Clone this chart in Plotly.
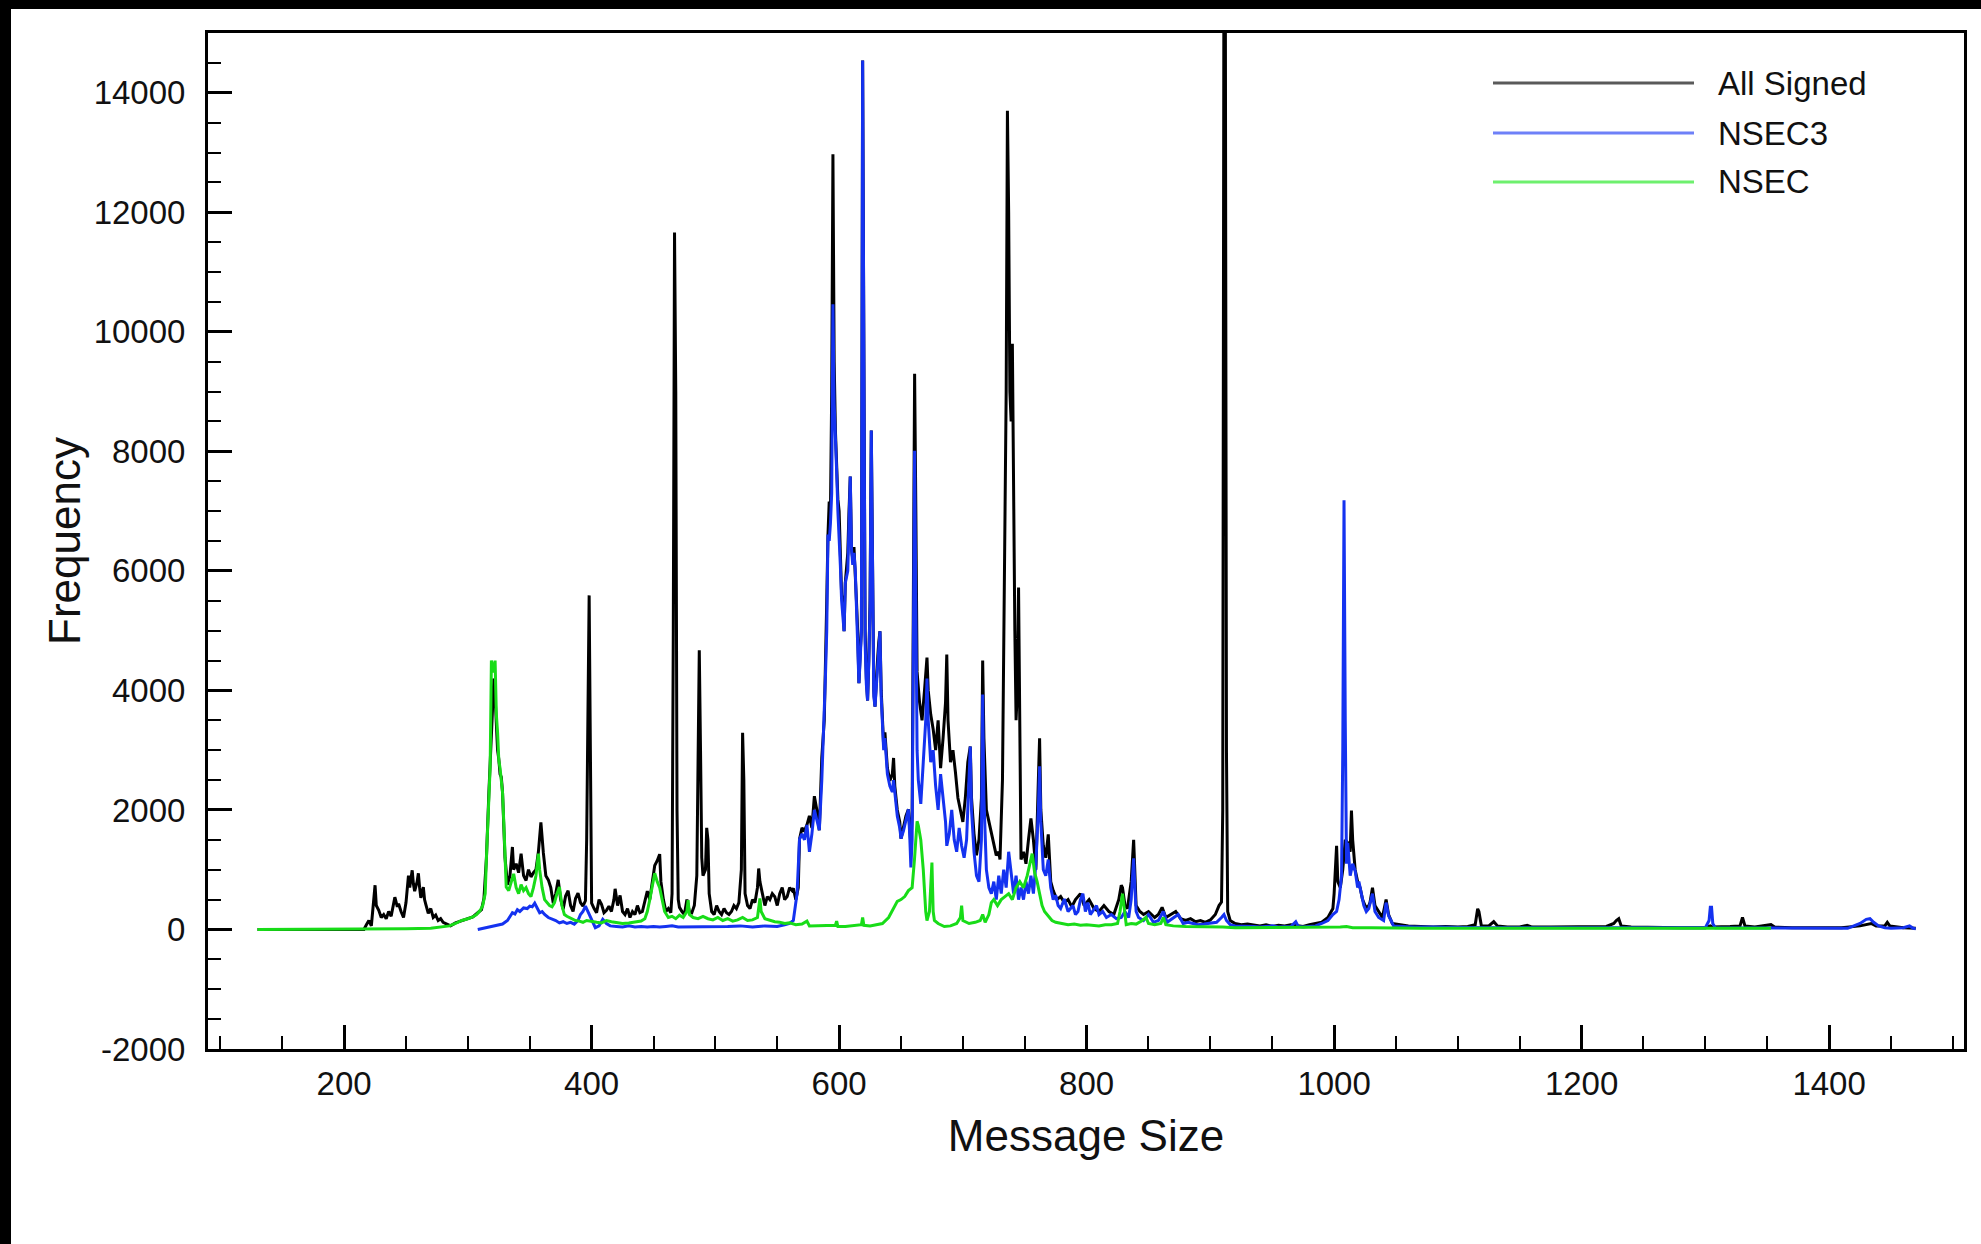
import plotly.graph_objects as go

# ---- data: frequency of DNS response sizes (bytes) ----
all_signed_x = [130, 216, 218, 220, 222, 224, 225, 226, 228, 230, 232, 234, 236, 238, 240, 241, 243, 244, 246, 248,
                250, 252, 253, 255, 256, 257, 259, 260, 261, 262, 264, 265, 266, 268, 270, 272, 274, 276, 278, 280,
                283, 286, 290, 295, 300, 304, 308, 311, 313, 315, 317, 318, 320, 321, 322, 323, 324, 325, 326, 327,
                328, 330, 332, 334, 336, 337, 339, 341, 343, 345, 347, 349, 351, 353, 355, 357, 359, 361, 363, 365,
                367, 369, 371, 373, 375, 377, 379, 381, 383, 385, 387, 389, 391, 393, 395, 396, 397, 398, 399, 400,
                402, 404, 406, 408, 410, 412, 414, 416, 418, 419, 421, 423, 425, 427, 429, 431, 433, 435, 437, 439,
                441, 443, 445, 447, 449, 451, 453, 455, 456, 458, 460, 462, 464, 465, 466, 467, 468, 469, 470, 471,
                473, 475, 477, 479, 481, 483, 485, 486, 487, 488, 489, 490, 492, 493, 494, 495, 497, 499, 501, 503,
                505, 507, 509, 511, 513, 515, 517, 519, 521, 522, 523, 524, 526, 528, 530, 532, 534, 535, 536, 538,
                540, 542, 544, 546, 548, 550, 552, 554, 556, 558, 560, 562, 563, 565, 567, 568, 570, 572, 574, 576,
                578, 580, 582, 584, 586, 588, 589, 590, 591, 592, 593, 594, 595, 596, 597, 598, 599, 600, 601, 602,
                603, 604, 605, 606, 607, 608, 609, 610, 611, 612, 613, 614, 615, 616, 617, 618, 619, 620, 621, 622,
                623, 624, 625, 626, 627, 628, 629, 630, 631, 632, 633, 634, 635, 636, 637, 638, 639, 641, 643, 644,
                645, 647, 649, 650, 652, 654, 656, 657, 658, 659, 660, 661, 662, 663, 665, 667, 669, 671, 672, 674,
                676, 678, 680, 682, 684, 686, 687, 688, 690, 692, 694, 696, 698, 700, 702, 704, 706, 707, 709, 711,
                713, 715, 716, 717, 719, 722, 724, 727, 729, 730, 732, 733, 734, 735, 736, 737, 738, 739, 740, 741,
                742, 743, 744, 745, 746, 747, 749, 751, 753, 755, 757, 759, 761, 762, 763, 765, 767, 769, 771, 773,
                776, 779, 782, 785, 788, 791, 795, 798, 802, 806, 810, 814, 818, 822, 826, 828, 829, 831, 833, 836,
                838, 839, 840, 843, 846, 850, 855, 858, 861, 864, 868, 872, 876, 880, 884, 888, 892, 896, 900, 904,
                907, 909, 910, 911, 912, 913, 914, 916, 920, 925, 930, 935, 940, 945, 950, 955, 960, 965, 970, 975,
                980, 985, 990, 995, 999, 1000, 1001, 1002, 1003, 1005, 1007, 1009, 1011, 1013, 1014, 1015, 1017, 1019,
                1021, 1023, 1025, 1027, 1029, 1031, 1033, 1036, 1039, 1042, 1044, 1047, 1052, 1060, 1070, 1080, 1090,
                1100, 1108, 1114, 1116, 1117, 1119, 1125, 1129, 1132, 1140, 1150, 1156, 1160, 1175, 1190, 1200, 1210,
                1220, 1226, 1228, 1230, 1232, 1240, 1260, 1280, 1300, 1304, 1306, 1315, 1320, 1328, 1330, 1332, 1340,
                1353, 1356, 1370, 1390, 1410, 1425, 1430, 1434, 1438, 1445, 1447, 1449, 1460, 1470]
all_signed_y = [0, 0, 80, 150, 60, 500, 740, 400, 320, 200, 250, 180, 300, 220, 420, 540, 380, 430, 300, 200,
                450, 900, 700, 990, 760, 640, 800, 940, 700, 530, 710, 500, 420, 270, 350, 200, 240, 150, 180, 120,
                90, 60, 110, 150, 190, 210, 280, 330, 520, 1200, 2300, 2750, 3800, 4200, 3900, 3500, 3000, 2850, 2600, 2550,
                2300, 1200, 750, 900, 1380, 1000, 1100, 950, 1270, 900, 820, 1000, 880, 950, 1000, 1300, 1790, 1280, 900, 830,
                700, 440, 600, 830, 500, 340, 560, 650, 400, 300, 520, 610, 450, 390, 480, 1500, 4200, 5590, 3000, 440,
                350, 280, 500, 420, 280, 320, 390, 300, 500, 680, 400, 570, 300, 250, 350, 200, 300, 250, 400, 280,
                300, 450, 640, 500, 800, 1070, 1150, 1260, 800, 500, 300, 350, 280, 600, 5000, 11660, 9000, 2000, 500, 370,
                300, 250, 500, 300, 280, 400, 900, 3500, 4670, 3000, 1200, 900, 1000, 1700, 1500, 600, 300, 250, 400, 300,
                250, 350, 280, 250, 300, 400, 350, 450, 1000, 3290, 2500, 600, 400, 350, 500, 450, 700, 1020, 800, 600,
                400, 550, 500, 600, 550, 400, 600, 700, 500, 550, 700, 650, 690, 500, 700, 1510, 1700, 1650, 1750, 1900,
                1700, 2230, 2000, 1660, 2880, 3500, 4270, 5500, 6610, 7160, 7000, 9000, 12970, 9500, 8350, 7670, 7200, 7000, 6090, 5600,
                5500, 4990, 5800, 6000, 6300, 7000, 7580, 6370, 6200, 6400, 6040, 5500, 5000, 4120, 4600, 5000, 14540, 10000, 5000, 4200,
                3830, 4500, 5500, 8350, 6000, 4000, 3730, 4200, 4500, 4800, 4990, 4000, 3500, 3060, 3300, 2900, 2700, 2490, 2600, 2870,
                2400, 2000, 1800, 1520, 1700, 1900, 2010, 1700, 1400, 1900, 5000, 9300, 7000, 4310, 3800, 3500, 4000, 4550, 4000, 3600,
                3350, 3000, 3500, 2700, 3200, 3800, 4600, 3500, 2800, 3000, 2630, 2200, 2000, 1800, 2200, 2800, 3060, 2200, 1600, 1240,
                1500, 2200, 4500, 3200, 2000, 1720, 1500, 1240, 1300, 1170, 2500, 5000, 6120, 9000, 13700, 12000, 9000, 8500, 9800, 7000,
                5000, 3500, 4000, 5720, 3000, 1170, 1300, 1100, 1500, 1860, 1500, 1000, 2500, 3200, 2000, 1400, 1200, 1590, 800, 650,
                500, 550, 450, 500, 380, 500, 600, 400, 500, 350, 300, 400, 300, 250, 500, 740, 700, 400, 350, 800,
                1500, 900, 400, 300, 250, 300, 200, 250, 370, 200, 250, 300, 180, 150, 180, 130, 150, 120, 160, 250,
                400, 460, 2000, 17000, 17000, 3000, 300, 150, 100, 80, 90, 70, 60, 80, 50, 70, 60, 80, 60, 50,
                80, 100, 120, 200, 350, 600, 1100, 1400, 800, 700, 1000, 1500, 1450, 1300, 1990, 1500, 1000, 800,
                700, 500, 400, 350, 450, 700, 400, 300, 200, 500, 250, 100, 80, 60, 50, 40, 50,
                40, 50, 80, 345, 300, 60, 60, 130, 60, 40, 40, 70, 40, 40, 40, 40, 40,
                50, 100, 150, 180, 60, 40, 30, 30, 30, 60, 40, 40, 50, 60, 200, 60, 40,
                80, 40, 30, 30, 30, 60, 80, 100, 60, 60, 120, 60, 30, 20]

nsec3_x = [308, 312, 316, 320, 324, 328, 332, 336, 338, 340, 342, 345, 348, 350, 352, 354, 356, 358, 360, 362,
           365, 368, 371, 374, 377, 380, 383, 386, 389, 391, 393, 395, 397, 399, 401, 403, 406, 409, 412, 415,
           420, 425, 430, 435, 440, 445, 450, 455, 460, 465, 470, 480, 490, 500, 510, 520, 530, 540, 550, 556,
           560, 563, 566, 568, 570, 572, 574, 576, 578, 580, 582, 584, 586, 588, 589, 590, 591, 592, 593, 594,
           595, 596, 597, 598, 599, 600, 601, 602, 603, 604, 605, 606, 607, 608, 609, 610, 611, 612, 613, 614,
           615, 616, 617, 618, 619, 620, 621, 622, 623, 624, 625, 626, 627, 628, 629, 630, 631, 632, 633, 634,
           635, 636, 637, 638, 639, 641, 643, 644, 645, 647, 649, 650, 652, 654, 656, 657, 658, 659, 660, 661,
           662, 663, 664, 666, 668, 670, 671, 672, 674, 676, 678, 680, 682, 684, 686, 687, 689, 691, 693, 695,
           697, 699, 701, 703, 705, 706, 707, 709, 711, 713, 715, 716, 717, 719, 721, 723, 725, 727, 729, 731,
           733, 735, 737, 739, 741, 743, 745, 747, 749, 751, 753, 755, 757, 759, 761, 762, 763, 765, 767, 769,
           771, 773, 775, 777, 779, 782, 785, 787, 789, 791, 793, 795, 797, 799, 801, 803, 806, 808, 810, 813,
           816, 820, 824, 828, 831, 834, 836, 838, 839, 840, 842, 846, 850, 854, 858, 862, 865, 870, 874, 878,
           882, 886, 890, 895, 900, 905, 909, 911, 913, 916, 920, 925, 930, 935, 940, 945, 950, 955, 960, 965,
           969, 971, 975, 980, 985, 990, 995, 999, 1002, 1004, 1006, 1007, 1008, 1009, 1010, 1011, 1012, 1013, 1015, 1017,
           1019, 1020, 1022, 1024, 1026, 1028, 1031, 1033, 1036, 1040, 1042, 1044, 1046, 1048, 1055, 1065, 1080, 1100, 1120, 1140,
           1160, 1180, 1200, 1220, 1240, 1260, 1280, 1300, 1303, 1304, 1305, 1306, 1308, 1320, 1340, 1360, 1380, 1400,
           1415, 1420, 1425, 1430, 1433, 1436, 1440, 1445, 1450, 1460, 1465, 1468, 1470]
nsec3_y = [0, 20, 30, 50, 80, 90, 150, 280, 260, 330, 300, 360, 350, 390, 380, 440, 360, 280, 300, 250,
           200, 180, 150, 110, 130, 100, 120, 90, 150, 250, 300, 390, 300, 200, 100, 30, 60, 170, 100, 60,
           50, 40, 60, 40, 50, 40, 50, 40, 50, 60, 40, 40, 50, 40, 50, 60, 40, 60, 50, 80,
           100, 150, 600, 1510, 1600, 1500, 1750, 1300, 1600, 2000, 1800, 1660, 2500, 3500, 4270, 5000, 6610, 6500, 6800, 7300,
           10460, 8800, 8350, 7670, 7000, 6600, 6090, 5500, 5300, 4990, 5800, 5900, 6000, 6800, 7580, 6370, 6100, 6300, 6040, 5400,
           4800, 4120, 4500, 5000, 14540, 9000, 4800, 4100, 3830, 4500, 5400, 8350, 5800, 3900, 3730, 4100, 4400, 4700, 4990, 3900,
           3400, 3000, 3200, 2800, 2600, 2400, 2300, 2500, 2300, 1900, 1700, 1520, 1650, 1850, 2010, 1600, 1040, 1500, 4000, 8010,
           5500, 3000, 2500, 2100, 2800, 3500, 4200, 3500, 2800, 3000, 2400, 2000, 2600, 2200, 1800, 1400, 1600, 2000, 1500, 1300,
           1700, 1400, 1200, 1500, 2800, 3060, 2000, 1300, 900, 800, 1500, 3930, 2200, 1000, 700, 600, 800, 500, 900, 600,
           1000, 700, 1300, 900, 600, 900, 500, 700, 500, 800, 600, 900, 600, 1100, 2000, 2730, 1800, 1000, 900, 1170,
           700, 500, 570, 400, 350, 510, 300, 350, 400, 250, 300, 500, 600, 300, 450, 250, 350, 400, 250, 300,
           200, 250, 180, 200, 300, 200, 500, 1190, 700, 300, 200, 150, 250, 120, 150, 300, 120, 200, 250, 100,
           120, 100, 80, 90, 100, 120, 200, 250, 150, 80, 60, 60, 50, 50, 40, 50, 60, 40, 50, 50,
           130, 50, 40, 50, 60, 100, 150, 250, 300, 500, 900, 3000, 7180, 3500, 1100, 1450, 1200, 900, 1100, 980,
           700, 800, 600, 400, 300, 350, 600, 300, 200, 150, 450, 230, 150, 60, 50, 40, 40, 30, 30, 30,
           30, 30, 30, 30, 30, 30, 30, 30, 150, 370, 370, 100, 30, 30, 30, 30, 20, 20,
           20, 60, 100, 170, 180, 120, 60, 30, 20, 30, 60, 20, 10]

nsec_x = [130, 180, 220, 250, 270, 285, 290, 295, 300, 304, 307, 310, 312, 314, 315, 316, 317, 318, 319, 320,
          321, 322, 323, 324, 325, 326, 327, 328, 329, 330, 331, 333, 335, 337, 339, 341, 343, 345, 347, 349,
          351, 353, 355, 357, 358, 360, 362, 364, 366, 368, 370, 372, 374, 376, 378, 380, 382, 384, 387, 390,
          393, 396, 400, 404, 408, 412, 416, 420, 425, 430, 435, 440, 443, 445, 447, 449, 451, 453, 455, 457,
          459, 462, 465, 468, 471, 474, 475, 477, 478, 479, 482, 486, 490, 494, 498, 502, 506, 510, 514, 518,
          522, 526, 530, 534, 536, 537, 540, 544, 548, 552, 556, 560, 565, 570, 574, 576, 580, 585, 590, 594,
          597, 598, 599, 605, 610, 615, 618, 619, 620, 625, 630, 635, 640, 644, 647, 650, 653, 656, 659, 661,
          663, 664, 666, 668, 669, 670, 671, 673, 675, 676, 677, 680, 685, 690, 695, 698, 699, 700, 705, 710,
          714, 716, 718, 721, 723, 725, 728, 731, 734, 737, 740, 743, 746, 749, 752, 754, 756, 758, 760, 762,
          764, 766, 768, 770, 772, 775, 780, 785, 790, 795, 800, 805, 810, 815, 820, 825, 827, 829, 830, 832,
          836, 840, 845, 848, 850, 855, 860, 862, 864, 870, 880, 890, 900, 910, 920, 940, 960, 980, 1000, 1005,
          1010, 1015, 1030, 1050, 1070, 1100, 1130, 1160, 1190, 1220, 1250, 1280, 1310, 1340, 1353]
nsec_y = [0, 0, 0, 10, 20, 60, 100, 150, 180, 210, 250, 320, 400, 600, 1200, 1800, 2280, 2720, 4500, 4400,
          4300, 4500, 3600, 3300, 2830, 2700, 2520, 2300, 1800, 1200, 710, 650, 800, 930, 700, 600, 750, 650, 700, 600,
          550, 700, 900, 1270, 1000, 700, 500, 440, 400, 380, 450, 600, 710, 400, 250, 220, 200, 170, 150, 140,
          120, 150, 130, 120, 110, 150, 130, 120, 100, 110, 120, 140, 180, 300, 500, 700, 940, 800, 700, 500,
          300, 200, 220, 180, 240, 200, 230, 300, 490, 250, 200, 180, 220, 180, 160, 200, 150, 180, 140, 160,
          200, 150, 160, 200, 520, 300, 180, 150, 130, 120, 100, 110, 80, 90, 140, 60, 60, 70, 60, 60,
          70, 140, 50, 50, 60, 70, 80, 200, 70, 60, 80, 100, 200, 350, 470, 500, 550, 650, 700, 1200,
          1810, 1740, 1500, 1000, 600, 300, 150, 300, 1120, 300, 150, 100, 50, 60, 100, 200, 400, 150, 100, 120,
          150, 250, 120, 250, 450, 500, 400, 500, 550, 600, 500, 700, 800, 700, 900, 1100, 1270, 950, 800, 600,
          400, 300, 250, 200, 150, 120, 100, 80, 90, 70, 80, 70, 60, 80, 80, 100, 300, 600, 400, 80,
          100, 90, 150, 200, 100, 80, 100, 200, 80, 60, 50, 50, 40, 40, 30, 30, 30, 30, 30, 40,
          50, 30, 30, 20, 20, 20, 20, 20, 20, 20, 20, 20, 20, 20, 20]

series_names = ["All Signed", "NSEC3", "NSEC"]
series_colors = ["#000000", "#1432f0", "#18dc18"]
legend_colors = ["#5a5a5a", "#6e80f8", "#6ef06e"]

x_tick_vals = [200, 400, 600, 800, 1000, 1200, 1400]
x_tick_text = ["200", "400", "600", "800", "1000", "1200", "1400"]
y_tick_vals = [-2000, 0, 2000, 4000, 6000, 8000, 10000, 12000, 14000]
y_tick_text = ["-2000", "0", "2000", "4000", "6000", "8000", "10000", "12000", "14000"]

FONT = "Liberation Sans, Arial, Helvetica, sans-serif"
INK = "#111111"

fig = go.Figure()
for name, xs, ys, color in zip(series_names,
                               [all_signed_x, nsec3_x, nsec_x],
                               [all_signed_y, nsec3_y, nsec_y],
                               series_colors):
    fig.add_trace(go.Scatter(x=xs, y=ys, mode="lines", name=name,
                             line=dict(color=color, width=3), showlegend=False))

# plot area in page pixels
W, H = 1981, 1244
L, R, T, B = 208, 17, 33, 195
pw, ph = W - L - R, H - T - B


def px(xp):
    return (xp - L) / pw


def py(yp):
    return (H - B - yp) / ph


shapes = [
    # dark frame strips along the top and left edge of the page
    dict(type="rect", xref="paper", yref="paper", x0=px(-5), x1=px(W + 5), y0=py(9), y1=py(-5),
         fillcolor="black", line=dict(width=0), layer="above"),
    dict(type="rect", xref="paper", yref="paper", x0=px(-5), x1=px(11), y0=py(H + 5), y1=py(-5),
         fillcolor="black", line=dict(width=0), layer="above"),
]
annotations = []
legend_rows = [83, 133, 182]
for name, color, yrow in zip(series_names, legend_colors, legend_rows):
    shapes.append(dict(type="line", xref="paper", yref="paper", x0=px(1493), x1=px(1694),
                       y0=py(yrow), y1=py(yrow), line=dict(color=color, width=3)))
    annotations.append(dict(xref="paper", yref="paper", x=px(1716), y=py(yrow), text=name,
                            showarrow=False, xanchor="left", yanchor="middle",
                            font=dict(family=FONT, size=33, color=INK)))

axis_common = dict(
    showline=True, linewidth=3, linecolor="black", mirror=True,
    ticks="inside", ticklen=24, tickwidth=3, tickcolor="black",
    showgrid=False, zeroline=False, tickmode="array",
    tickfont=dict(family=FONT, size=33, color=INK),
)

fig.update_layout(
    width=W, height=H,
    margin=dict(l=L, r=R, t=T, b=B, pad=0),
    paper_bgcolor="white", plot_bgcolor="white",
    shapes=shapes, annotations=annotations,
    xaxis=dict(axis_common, range=[90, 1509], tickvals=x_tick_vals, ticktext=x_tick_text,
               ticklabelstandoff=3,
               minor=dict(ticks="inside", ticklen=13, tickwidth=2, tickcolor="black",
                          dtick=50, tick0=0, showgrid=False),
               title=dict(text="Message Size", standoff=20,
                          font=dict(family=FONT, size=44, color=INK))),
    yaxis=dict(axis_common, range=[-2000, 15000], tickvals=y_tick_vals, ticktext=y_tick_text,
               ticklabelstandoff=13,
               minor=dict(ticks="inside", ticklen=13, tickwidth=2, tickcolor="black",
                          dtick=500, tick0=0, showgrid=False),
               title=dict(text="Frequency", standoff=0,
                          font=dict(family=FONT, size=44, color=INK))),
)

fig.write_html("out.html")
